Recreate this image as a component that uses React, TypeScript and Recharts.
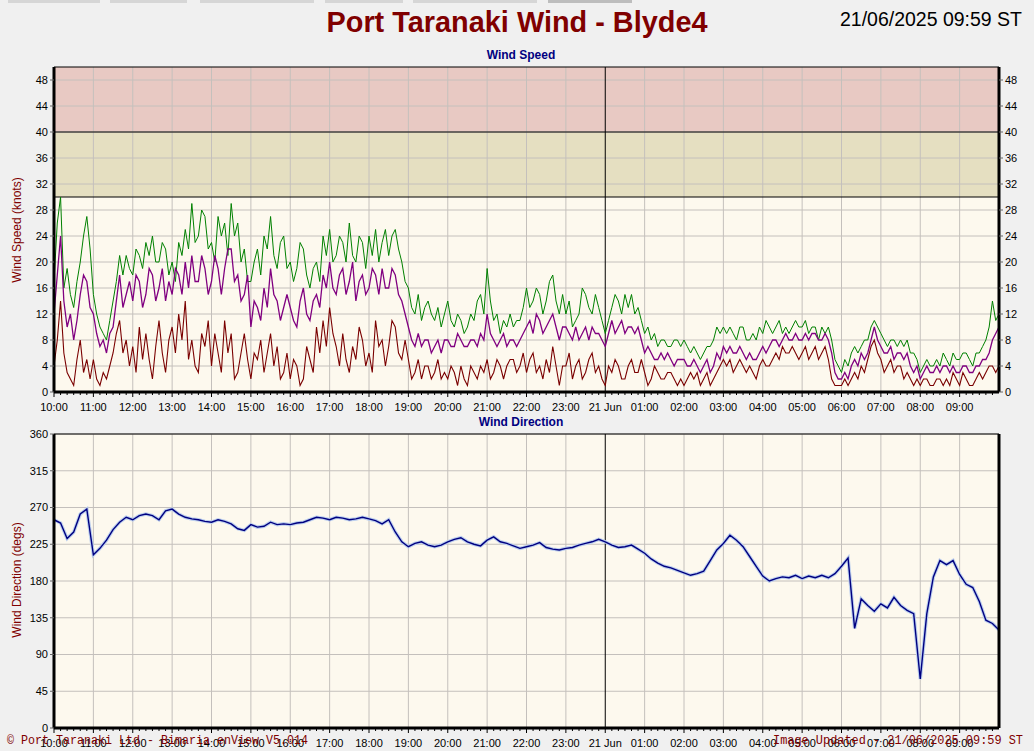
import { LineChart, Line, XAxis, YAxis, ReferenceArea, ReferenceLine } from 'recharts';

// wind speed: 5-minute samples from 10:00 (index 0) to 09:59 next day (index 288)
const GUST = [
  17, 26, 30, 16, 19, 15, 13, 17, 20, 24, 27, 22,
  15, 12, 10, 9, 8, 11, 14, 17, 21, 18, 21, 19,
  18, 22, 21, 19, 23, 21, 24, 20, 20, 23, 22, 18,
  20, 17, 23, 21, 25, 22, 29, 23, 24, 28, 27, 22,
  23, 20, 27, 24, 26, 21, 29, 24, 26, 20, 22, 17,
  17, 20, 22, 18, 24, 22, 27, 21, 19, 23, 24, 19,
  20, 17, 19, 23, 22, 18, 16, 19, 20, 17, 24, 21,
  25, 20, 21, 24, 23, 20, 26, 21, 20, 24, 23, 19,
  24, 21, 25, 20, 23, 25, 21, 24, 25, 22, 20, 17,
  16, 13, 12, 15, 11, 13, 14, 12, 11, 13, 10, 12,
  14, 11, 10, 12, 11, 9, 10, 12, 11, 14, 15, 12,
  19, 14, 11, 12, 9, 11, 10, 12, 10, 11, 11, 13,
  16, 13, 14, 16, 15, 12, 14, 17, 18, 14, 12, 15,
  12, 14, 10, 11, 12, 16, 15, 13, 12, 15, 13, 11,
  9, 11, 13, 15, 14, 12, 15, 13, 15, 12, 13, 11,
  9, 10, 8, 9, 7, 8, 8, 7, 7, 8, 8, 7,
  8, 7, 6, 7, 6, 5, 6, 7, 7, 8, 10, 9,
  10, 9, 10, 9, 8, 10, 10, 8, 8, 9, 8, 10,
  9, 11, 10, 9, 10, 11, 9, 10, 9, 10, 11, 10,
  10, 11, 9, 10, 10, 8, 10, 9, 10, 8, 5, 4,
  3, 5, 4, 6, 7, 6, 7, 8, 8, 10, 11, 10,
  9, 8, 7, 8, 8, 7, 8, 7, 8, 6, 6, 5,
  3, 4, 5, 4, 4, 5, 4, 6, 5, 4, 6, 5,
  5, 6, 6, 5, 4, 6, 6, 7, 8, 10, 14, 11,
  12,
];
const AVG = [
  12, 18, 24, 14, 10, 12, 8, 11, 15, 18, 17, 13,
  12, 9, 7, 8, 6, 9, 10, 14, 18, 13, 15, 17,
  14, 18, 17, 13, 15, 19, 18, 14, 16, 19, 14, 17,
  15, 19, 18, 15, 20, 16, 21, 17, 17, 21, 19, 15,
  17, 21, 19, 15, 19, 22, 22, 17, 18, 14, 15, 18,
  10, 14, 13, 11, 16, 13, 19, 15, 14, 11, 13, 15,
  13, 11, 10, 14, 16, 12, 11, 14, 15, 13, 18, 16,
  20, 16, 15, 18, 19, 15, 17, 20, 14, 17, 18, 15,
  16, 19, 18, 15, 19, 16, 16, 19, 18, 15, 14, 12,
  10, 8, 7, 9, 7, 8, 8, 6, 7, 8, 6, 8,
  8, 7, 7, 9, 8, 7, 7, 8, 8, 7, 9, 8,
  12, 9, 8, 7, 8, 9, 7, 8, 8, 7, 8, 9,
  10, 11, 9, 12, 11, 9, 10, 11, 12, 10, 8, 10,
  10, 9, 8, 10, 8, 9, 10, 8, 10, 9, 9, 8,
  7, 9, 11, 9, 10, 11, 9, 10, 10, 9, 10, 8,
  6, 7, 6, 5, 5, 6, 5, 6, 5, 4, 5, 5,
  5, 4, 4, 5, 4, 3, 4, 5, 3, 4, 6, 5,
  7, 6, 7, 6, 6, 7, 6, 5, 6, 5, 5, 6,
  7, 6, 7, 8, 8, 7, 8, 9, 8, 8, 9, 8,
  8, 9, 8, 9, 9, 8, 8, 9, 8, 6, 3, 2,
  2, 3, 2, 4, 5, 4, 6, 5, 6, 8, 10, 8,
  7, 6, 6, 7, 5, 6, 6, 5, 6, 4, 3, 4,
  2, 3, 4, 3, 3, 4, 3, 4, 4, 3, 4, 3,
  3, 4, 4, 3, 3, 4, 4, 5, 5, 6, 8, 9,
  10,
];
const LULL = [
  4, 8, 14, 6, 3, 2, 1, 5, 8, 3, 5, 2,
  5, 2, 1, 3, 2, 4, 6, 9, 11, 6, 8, 4,
  7, 3, 10, 5, 9, 5, 2, 7, 11, 6, 3, 8,
  10, 6, 12, 8, 14, 5, 8, 4, 3, 9, 7, 11,
  4, 9, 6, 3, 11, 6, 9, 2, 3, 6, 9, 5,
  2, 6, 5, 8, 3, 6, 9, 4, 7, 2, 3, 6,
  2, 5, 4, 1, 2, 7, 5, 3, 10, 6, 11, 7,
  13, 9, 7, 4, 9, 5, 3, 7, 5, 10, 8, 4,
  6, 3, 11, 7, 8, 4, 7, 11, 10, 6, 5, 8,
  5, 2, 3, 5, 2, 4, 4, 2, 3, 5, 2, 3,
  2, 4, 3, 1, 4, 2, 1, 4, 3, 2, 4, 3,
  5, 2, 3, 5, 4, 2, 4, 5, 5, 3, 4, 6,
  3, 5, 6, 3, 4, 2, 5, 3, 7, 4, 1, 4,
  4, 6, 2, 4, 5, 2, 3, 5, 6, 3, 4, 2,
  1, 4, 3, 5, 4, 2, 2, 4, 5, 3, 3, 5,
  3, 1, 2, 4, 3, 2, 2, 3, 3, 2, 1, 2,
  1, 2, 3, 2, 3, 1, 2, 3, 1, 2, 3, 4,
  5, 4, 5, 3, 4, 5, 4, 3, 4, 3, 2, 4,
  5, 4, 4, 5, 6, 5, 7, 6, 6, 7, 6, 5,
  6, 7, 5, 6, 7, 5, 6, 7, 5, 2, 1, 1,
  1, 2, 1, 2, 3, 2, 4, 3, 5, 7, 8, 6,
  5, 3, 4, 5, 3, 4, 4, 2, 3, 2, 1, 2,
  1, 2, 2, 1, 1, 2, 2, 1, 2, 1, 3, 2,
  1, 3, 2, 1, 1, 2, 3, 2, 3, 4, 4, 3,
  4,
];
// wind direction: 10-minute samples, index 0 = 10:00, index 144 = 09:59
const DIRECTION = [
  255, 251, 232, 240, 262, 268, 212, 220, 230, 243,
  252, 258, 255, 260, 262, 260, 255, 266, 268, 262,
  258, 256, 255, 253, 252, 255, 253, 250, 244, 242,
  249, 246, 247, 252, 249, 250, 249, 251, 252, 255,
  258, 257, 255, 258, 257, 255, 256, 258, 256, 254,
  250, 255, 240, 228, 222, 226, 228, 224, 222, 224,
  228, 231, 233, 228, 225, 223, 230, 234, 228, 226,
  223, 220, 222, 224, 227, 221, 219, 218, 220, 221,
  224, 226, 228, 231, 228, 224, 221, 222, 224, 219,
  214, 207, 202, 198, 196, 193, 190, 187, 189, 192,
  205, 218, 226, 236, 230, 222, 210, 198, 186, 180,
  183, 185, 184, 187, 183, 186, 184, 187, 184, 189,
  198, 208, 122, 158, 150, 143, 152, 147, 160, 150,
  144, 140, 60, 140, 185, 205, 200, 205, 188, 176,
  172, 155, 132, 128, 120,
];

const SPEED_TICKS = [0, 4, 8, 12, 16, 20, 24, 28, 32, 36, 40, 44, 48];
const DIR_TICKS = [0, 45, 90, 135, 180, 225, 270, 315, 360];
const COMPASS: Record<number, string> = { 360: 'N', 270: 'W', 180: 'S', 90: 'E' };
const START_HOUR = 10;
const DAY_LABEL = '21 Jun';

const speedData = GUST.map((g, i) => ({ t: i, gust: g, avg: AVG[i], lull: LULL[i] }));
const dirData = DIRECTION.map((d, i) => ({ t: i, dir: d }));

const FONT = '"Liberation Sans", Arial, sans-serif';
const MONO = '"Liberation Mono", "Courier New", monospace';
const DARK_RED = '#800000';
const NAVY = '#000080';
const GRID = '#c4c0bc';

// perHour = samples per hour; minor ticks every 10 min
function timeTicks(perHour: number) {
  const step = perHour / 6;
  return Array.from({ length: 144 }, (_, i) => i * step);
}
function hourLines(perHour: number) {
  return Array.from({ length: 23 }, (_, i) => (i + 1) * perHour);
}

function timeLabel(i: number, perHour: number) {
  const h = (START_HOUR + i / perHour) % 24;
  if (h === 0) return DAY_LABEL;
  return `${String(h).padStart(2, '0')}:00`;
}

function TimeTick(props: any) {
  const { x, y, payload, perHour } = props;
  const i = payload.value;
  const major = i % perHour === 0;
  return (
    <g>
      <line x1={x} y1={y} x2={x} y2={y + (major ? 5 : 3)} stroke="#000" />
      {major && (
        <text x={x} y={y + 19} textAnchor="middle" fontSize={11} fill="#000" fontFamily={FONT}>
          {timeLabel(i, perHour)}
        </text>
      )}
    </g>
  );
}

const axisLine = { stroke: '#000', strokeWidth: 3 };
const tickStyle = { fontSize: 11, fill: '#000', fontFamily: FONT };

function gridLines(yTicks: number[], top: number, perHour: number) {
  const midnight = (24 - START_HOUR) * perHour;
  return [
    ...yTicks
      .filter((v) => v > 0)
      .map((v) => <ReferenceLine key={`h${v}`} yAxisId="l" y={v} stroke={GRID} />),
    ...hourLines(perHour).map((t) => (
      <ReferenceLine key={`v${t}`} yAxisId="l" x={t} stroke={t === midnight ? '#000' : GRID} />
    )),
    <ReferenceLine key="top" yAxisId="l" y={top} stroke="#000" />,
  ];
}

function timeAxis(perHour: number) {
  return (
    <XAxis
      dataKey="t"
      type="number"
      domain={[0, 24 * perHour]}
      ticks={timeTicks(perHour)}
      interval={0}
      height={20}
      tickSize={0}
      tickMargin={0}
      tickLine={false}
      axisLine={axisLine}
      tick={(p: any) => <TimeTick {...p} perHour={perHour} />}
    />
  );
}

function SpeedChart() {
  const perHour = 12;
  return (
    <LineChart width={1034} height={420} data={speedData} margin={{ top: 67, right: 5, bottom: 8, left: 24 }}>
      {timeAxis(perHour)}
      <YAxis yAxisId="l" domain={[0, 50]} ticks={SPEED_TICKS} interval={0} width={30} tickSize={4} tickMargin={2} axisLine={axisLine} tick={tickStyle} allowDataOverflow />
      <YAxis yAxisId="r" orientation="right" domain={[0, 50]} ticks={SPEED_TICKS} interval={0} width={30} tickSize={4} tickMargin={2} axisLine={axisLine} tick={tickStyle} allowDataOverflow />
      <ReferenceArea yAxisId="l" y1={0} y2={30} fill="#fdf9ee" fillOpacity={1} />
      <ReferenceArea yAxisId="l" y1={30} y2={40} fill="#e5dfc1" fillOpacity={1} />
      <ReferenceArea yAxisId="l" y1={40} y2={50} fill="#e8c9c3" fillOpacity={1} />
      {gridLines(SPEED_TICKS, 50, perHour)}
      <ReferenceLine yAxisId="l" y={30} stroke="#000" />
      <ReferenceLine yAxisId="l" y={40} stroke="#000" />
      <Line yAxisId="l" type="linear" dataKey="gust" stroke="#008000" strokeWidth={1} dot={false} isAnimationActive={false} />
      <Line yAxisId="l" type="linear" dataKey="avg" stroke="#800080" strokeWidth={1.3} dot={false} isAnimationActive={false} />
      <Line yAxisId="l" type="linear" dataKey="lull" stroke="#7a0000" strokeWidth={1.1} dot={false} isAnimationActive={false} />
    </LineChart>
  );
}

function DirectionChart() {
  const perHour = 6;
  return (
    <LineChart width={1034} height={331} data={dirData} margin={{ top: 14, right: 5, bottom: 3, left: 24 }}>
      {timeAxis(perHour)}
      <YAxis yAxisId="l" domain={[0, 360]} ticks={DIR_TICKS} interval={0} width={30} tickSize={4} tickMargin={2} axisLine={axisLine} tick={tickStyle} />
      <YAxis
        yAxisId="r"
        orientation="right"
        domain={[0, 360]}
        ticks={DIR_TICKS}
        interval={0}
        width={30}
        tickSize={4}
        tickMargin={2}
        axisLine={axisLine}
        tick={tickStyle}
        tickFormatter={(v: number) => COMPASS[v] ?? ''}
      />
      <ReferenceArea yAxisId="l" y1={0} y2={360} fill="#fdf9ee" fillOpacity={1} />
      {gridLines(DIR_TICKS, 360, perHour)}
      <Line yAxisId="l" type="linear" dataKey="dir" stroke="#bccfee" strokeWidth={3.5} dot={false} isAnimationActive={false} />
      <Line yAxisId="l" type="linear" dataKey="dir" stroke={NAVY} strokeWidth={1.4} dot={false} isAnimationActive={false} />
    </LineChart>
  );
}

const TABS = [
  { left: 8, width: 92, color: '#d6d6d6' },
  { left: 110, width: 77, color: '#d6d6d6' },
  { left: 200, width: 114, color: '#d6d6d6' },
  { left: 325, width: 78, color: '#d6d6d6' },
  { left: 413, width: 124, color: '#d6d6d6' },
  { left: 548, width: 84, color: '#bdbdbd' },
];

export default function App() {
  return (
    <div style={{ position: 'absolute', left: 0, top: 0, width: 1034, height: 751, background: '#f0f0f0', overflow: 'hidden', fontFamily: FONT }}>
      {TABS.map((t, i) => (
        <div key={i} style={{ position: 'absolute', top: 0, left: t.left, width: t.width, height: 3, background: t.color }} />
      ))}
      <div style={{ position: 'absolute', left: 0, top: 0 }}>
        <SpeedChart />
      </div>
      <div style={{ position: 'absolute', left: 0, top: 420 }}>
        <DirectionChart />
      </div>
      <svg width={1034} height={751} style={{ position: 'absolute', left: 0, top: 0, pointerEvents: 'none' }}>
        <text x={517} y={32} textAnchor="middle" fontSize={30} fontWeight="bold" fill={DARK_RED} fontFamily={FONT} textLength={381} lengthAdjust="spacingAndGlyphs">
          Port Taranaki Wind - Blyde4
        </text>
        <text x={840} y={26} fontSize={20} fill="#000" fontFamily={FONT} textLength={182} lengthAdjust="spacingAndGlyphs">
          21/06/2025 09:59 ST
        </text>
        <text x={521} y={59} textAnchor="middle" fontSize={12} fontWeight="bold" fill={NAVY} fontFamily={FONT}>
          Wind Speed
        </text>
        <text x={521} y={426} textAnchor="middle" fontSize={12} fontWeight="bold" fill={NAVY} fontFamily={FONT}>
          Wind Direction
        </text>
        <text x={21} y={230} textAnchor="middle" fontSize={12} fill={DARK_RED} fontFamily={FONT} transform="rotate(-90 21 230)">
          Wind Speed (knots)
        </text>
        <text x={21} y={580} textAnchor="middle" fontSize={12} fill={DARK_RED} fontFamily={FONT} transform="rotate(-90 21 580)">
          Wind Direction (degs)
        </text>
        <text x={7} y={744} fontSize={12} fill={DARK_RED} fontFamily={MONO} textLength={301} lengthAdjust="spacingAndGlyphs">
          © Port Taranaki Ltd - Bimaria enView V5.014
        </text>
        <text x={773} y={744} fontSize={12} fill={DARK_RED} fontFamily={MONO} textLength={250} lengthAdjust="spacingAndGlyphs">
          Image Updated - 21/06/2025 09:59 ST
        </text>
      </svg>
    </div>
  );
}
